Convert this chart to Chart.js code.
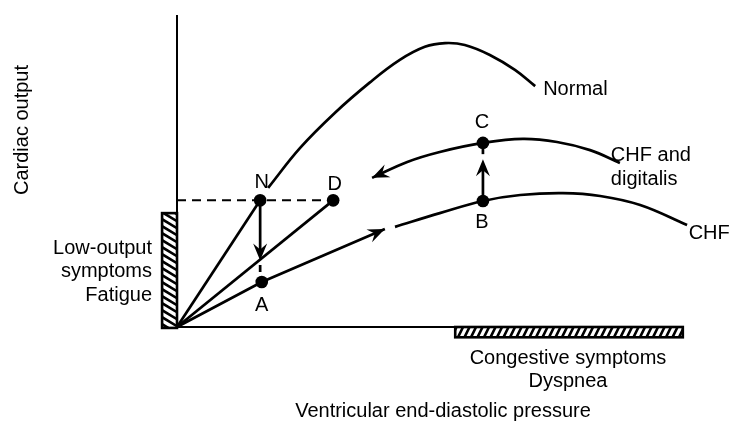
<!DOCTYPE html>
<html>
<head>
<meta charset="utf-8">
<script src="https://cdn.jsdelivr.net/npm/chart.js"></script>
<style>
  body { margin: 0; background: #fff; }
  #frank { display: block; }
</style>
</head>
<body>
<canvas id="frank" width="732" height="435"></canvas>
<script>
// Frank-Starling curves, pressure (x) against cardiac output (y), arbitrary units 0-100
const normalCurve = [
  { x: 17.1, y: 44.6 }, { x: 23.1, y: 57.4 }, { x: 29.6, y: 68.6 }, { x: 36.2, y: 78.4 },
  { x: 41.8, y: 85.6 }, { x: 46.5, y: 89.8 }, { x: 50.3, y: 91.0 }, { x: 54.0, y: 90.4 },
  { x: 58.7, y: 87.2 }, { x: 63.4, y: 82.4 }, { x: 67.2, y: 77.2 }
];
const chfRise = [{ x: 0, y: 0 }, { x: 15.9, y: 14.4 }, { x: 39.0, y: 31.4 }];
const chfCurve = [
  { x: 40.9, y: 32.1 }, { x: 49.3, y: 36.5 }, { x: 57.4, y: 40.4 }, { x: 64.4, y: 42.3 },
  { x: 72.4, y: 42.9 }, { x: 79.4, y: 42.0 }, { x: 86.9, y: 39.1 }, { x: 95.7, y: 32.7 }
];
const digitalisCurve = [
  { x: 36.6, y: 47.8 }, { x: 43.2, y: 52.9 }, { x: 49.3, y: 56.1 }, { x: 57.4, y: 59.0 },
  { x: 64.9, y: 60.3 }, { x: 71.3, y: 59.3 }, { x: 77.5, y: 56.7 }, { x: 83.1, y: 52.6 }
];
// operating points
const keyPoints = [
  { x: 15.6, y: 40.6, name: 'N' }, { x: 29.3, y: 40.6, name: 'D' }, { x: 15.9, y: 14.4, name: 'A' },
  { x: 57.4, y: 40.4, name: 'B' }, { x: 57.4, y: 59.0, name: 'C' }
];
const rayToN = [{ x: 0, y: 0 }, { x: 15.6, y: 40.6 }];
const rayToD = [{ x: 0, y: 0 }, { x: 29.3, y: 40.6 }];
const dashedLevel = [{ x: 0, y: 40.6 }, { x: 29.3, y: 40.6 }];
const shaftNA = [{ x: 15.6, y: 40.6 }, { x: 15.6, y: 23.0 }];
const tickNA = [{ x: 15.6, y: 19.9 }, { x: 15.6, y: 17.6 }];
const shaftBC = [{ x: 57.4, y: 40.4 }, { x: 57.4, y: 52.0 }];
const tickBC = [{ x: 57.4, y: 55.4 }, { x: 57.4, y: 57.1 }];
const yAxisLine = [{ x: 0, y: 0 }, { x: 0, y: 100 }];
const xAxisLine = [{ x: 0, y: 0 }, { x: 52.2, y: 0 }];

// arrow heads: tip and a point behind it on the same path
const arrowHeads = [
  { tip: { x: 15.6, y: 21.3 }, from: { x: 15.6, y: 30 } },
  { tip: { x: 57.4, y: 53.8 }, from: { x: 57.4, y: 45 } },
  { tip: { x: 39.0, y: 31.4 }, from: { x: 27.4, y: 22.8 } },
  { tip: { x: 36.6, y: 47.8 }, from: { x: 43.2, y: 52.9 } }
];
// symptom bands
const symptomBoxes = [
  { x0: -2.8, x1: 0, y0: -0.3, y1: 36.5, slant: 'down' },
  { x0: 52.2, x1: 94.9, y0: -3.3, y1: 0, slant: 'up' }
];
const curveLabels = [
  { text: 'N', x: 15.9, y: 46.4, align: 'center' },
  { text: 'D', x: 29.6, y: 45.7, align: 'center' },
  { text: 'C', x: 57.2, y: 65.6, align: 'center' },
  { text: 'B', x: 57.2, y: 33.5, align: 'center' },
  { text: 'A', x: 15.9, y: 6.9, align: 'center' },
  { text: 'Normal', x: 68.7, y: 76.0, align: 'left' },
  { text: 'CHF and', x: 81.4, y: 55.0, align: 'left' },
  { text: 'digitalis', x: 81.4, y: 47.3, align: 'left' },
  { text: 'CHF', x: 96.0, y: 30.1, align: 'left' }
];
const lowOutputText = ['Low-output', 'symptoms', 'Fatigue'];
const congestiveText = ['Congestive symptoms', 'Dyspnea'];
const xTitle = 'Ventricular end-diastolic pressure';
const yTitle = 'Cardiac output';

const FONT = '20px "Liberation Sans", Arial, sans-serif';

function hatchBox(ctx, l, t, w, h, slant) {
  ctx.save();
  ctx.beginPath();
  ctx.rect(l, t, w, h);
  ctx.clip();
  ctx.beginPath();
  ctx.lineWidth = 2.6;
  if (slant === 'up') {
    for (let sx = l - h; sx < l + w + h; sx += 6.5) {
      ctx.moveTo(sx, t + h);
      ctx.lineTo(sx + h * 0.5, t);
    }
  } else {
    for (let sy = t - w; sy < t + h + w; sy += 7) {
      ctx.moveTo(l, sy);
      ctx.lineTo(l + w, sy + w * 0.6);
    }
  }
  ctx.stroke();
  ctx.restore();
  ctx.lineWidth = 2.6;
  ctx.strokeRect(l, t, w, h);
}

function arrowHead(ctx, tx, ty, fx, fy) {
  const ang = Math.atan2(ty - fy, tx - fx);
  ctx.save();
  ctx.translate(tx, ty);
  ctx.rotate(ang);
  ctx.beginPath();
  ctx.moveTo(0, 0);
  ctx.lineTo(-17, -7);
  ctx.lineTo(-11, 0);
  ctx.lineTo(-17, 7);
  ctx.closePath();
  ctx.fill();
  ctx.restore();
}

const diagramExtras = {
  id: 'diagramExtras',
  beforeDatasetsDraw(chart) {
    const { ctx, scales: { x, y } } = chart;
    ctx.save();
    ctx.strokeStyle = '#000';
    symptomBoxes.forEach(b => {
      const l = x.getPixelForValue(b.x0), r = x.getPixelForValue(b.x1);
      const t = y.getPixelForValue(b.y1), bt = y.getPixelForValue(b.y0);
      hatchBox(ctx, l, t, r - l, bt - t, b.slant);
    });
    ctx.restore();
  },
  afterDatasetsDraw(chart) {
    const { ctx, scales: { x, y } } = chart;
    ctx.save();
    ctx.fillStyle = '#000';
    arrowHeads.forEach(a => {
      arrowHead(ctx, x.getPixelForValue(a.tip.x), y.getPixelForValue(a.tip.y),
        x.getPixelForValue(a.from.x), y.getPixelForValue(a.from.y));
    });

    ctx.font = FONT;
    ctx.textBaseline = 'middle';
    curveLabels.forEach(l => {
      ctx.textAlign = l.align;
      ctx.fillText(l.text, x.getPixelForValue(l.x), y.getPixelForValue(l.y));
    });

    // band captions
    ctx.textAlign = 'right';
    lowOutputText.forEach((s, i) => ctx.fillText(s, 152, 248 + i * 23.5));
    ctx.textAlign = 'center';
    congestiveText.forEach((s, i) => ctx.fillText(s, 568, 358 + i * 23.5));
    ctx.fillText(xTitle, 443, 411);

    ctx.translate(22, 130);
    ctx.rotate(-Math.PI / 2);
    ctx.fillText(yTitle, 0, 0);
    ctx.restore();
  }
};

function line(data, extra) {
  return Object.assign({
    data, showLine: true, borderColor: '#000', borderWidth: 2.7,
    pointRadius: 0, fill: false, clip: false, tension: 0
  }, extra || {});
}

new Chart(document.getElementById('frank'), {
  type: 'scatter',
  data: {
    datasets: [
      line(yAxisLine, { borderWidth: 2 }),
      line(xAxisLine, { borderWidth: 2 }),
      line(dashedLevel, { borderWidth: 2, borderDash: [9, 6] }),
      line(rayToN),
      line(rayToD),
      line(chfRise),
      line(chfCurve, { tension: 0.4 }),
      line(digitalisCurve, { tension: 0.4 }),
      line(normalCurve, { tension: 0.4 }),
      line(shaftNA),
      line(tickNA),
      line(shaftBC),
      line(tickBC),
      {
        data: keyPoints, showLine: false, pointRadius: 6.3,
        pointBackgroundColor: '#000', pointBorderWidth: 0, clip: false
      }
    ]
  },
  options: {
    responsive: false,
    animation: false,
    devicePixelRatio: 1,
    events: [],
    layout: { padding: { left: 177, right: 22, top: 15, bottom: 108 } },
    scales: {
      x: { type: 'linear', min: 0, max: 100, display: false },
      y: { type: 'linear', min: 0, max: 100, display: false }
    },
    plugins: { legend: { display: false }, tooltip: { enabled: false } }
  },
  plugins: [diagramExtras]
});
</script>
</body>
</html>
